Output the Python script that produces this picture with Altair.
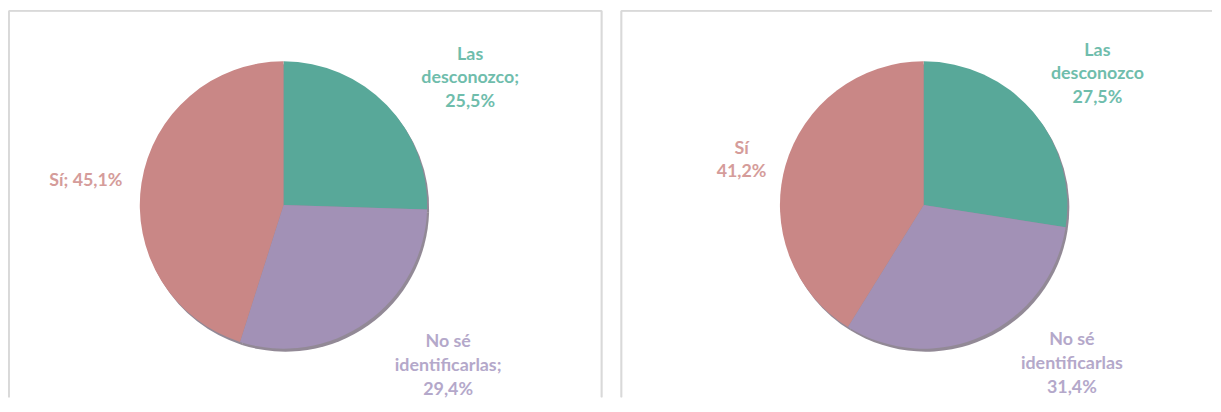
import altair as alt
import pandas as pd

categories = ["Las desconozco", "No sé identificarlas", "Sí"]
left_values = [25.5, 29.4, 45.1]
right_values = [27.5, 31.4, 41.2]
left_labels = [["Las", "desconozco;", "25,5%"], ["No sé", "identificarlas;", "29,4%"], ["Sí; 45,1%"]]
right_labels = [["Las", "desconozco", "27,5%"], ["No sé", "identificarlas", "31,4%"], ["Sí", "41,2%"]]

slice_colors = ["#58A899", "#A291B6", "#C98786"]
label_colors = ["#6FBDAC", "#B4A8CA", "#D59C9A"]

FONT = "Lato"
R = 145
LR = 215
LH = 24
BORDER = "#D9D9D9"


def panel(values, labels, cx, cy, offsets, w, h, right_border):
    total = float(sum(values))
    maxn = max(len(l) for l in labels)
    data = {
        "cat": categories,
        "value": values,
        "order": list(range(len(categories))),
    }
    for k in range(maxn):
        data[f"line{k}"] = [l[k] if k < len(l) else "" for l in labels]
    df = pd.DataFrame(data)
    tscale = alt.Scale(domain=[0, total])
    base = alt.Chart(df).encode(
        theta=alt.Theta("value:Q", stack=True, scale=tscale),
        order=alt.Order("order:Q"),
        x=alt.value(cx),
        y=alt.value(cy),
    )
    shadow = alt.Chart(df).mark_arc(outerRadius=R, color="#4a3a50", opacity=0.6).encode(
        theta=alt.Theta("value:Q", stack=True, scale=tscale),
        order=alt.Order("order:Q"),
        x=alt.value(cx + 2),
        y=alt.value(cy + 3),
    )
    arcs = base.mark_arc(outerRadius=R).encode(
        color=alt.Color("cat:N", scale=alt.Scale(domain=categories, range=slice_colors), legend=None)
    )
    frame = alt.Chart(df)
    borders = [
        frame.mark_rule(color=BORDER, strokeWidth=1.5).encode(x=alt.value(0), x2=alt.value(w), y=alt.value(0)),
        frame.mark_rule(color=BORDER, strokeWidth=1.5).encode(x=alt.value(0), y=alt.value(0), y2=alt.value(h)),
    ]
    if right_border:
        borders.append(
            frame.mark_rule(color=BORDER, strokeWidth=1.5).encode(x=alt.value(w), y=alt.value(0), y2=alt.value(h))
        )
    layers = borders + [shadow, arcs]
    mids = alt.Chart(df).transform_window(
        cum="sum(value)", sort=[alt.SortField("order", order="ascending")], frame=[None, 0]
    ).transform_calculate(mid="datum.cum - datum.value / 2")
    for i, c in enumerate(categories):
        dx, dy = offsets[i]
        n = len(labels[i])
        for k in range(n):
            t = mids.transform_filter(f"datum.cat == '{c}'").mark_text(
                radius=LR, dx=dx, dy=dy + (k - (n - 1) / 2) * LH, font=FONT, fontSize=18,
                fontWeight="bold", color=label_colors[i],
                align="center", baseline="middle",
            ).encode(
                theta=alt.Theta("mid:Q", stack=None, scale=tscale),
                x=alt.value(cx),
                y=alt.value(cy),
                text=f"line{k}:N",
            )
            layers.append(t)
    return alt.layer(*layers).properties(width=w, height=h)


left = panel(left_values, left_labels, 277, 196, [(34, 22), (42, -13), (13, 9)], 598, 390, True)
right = panel(right_values, right_labels, 305, 196, [(12, 8), (60, -35), (23, 14)], 596, 390, False)

chart = alt.hconcat(left, right, spacing=18).properties(padding=0).configure_view(stroke=None)

chart.save("out.html", embed_options={"renderer": "svg", "actions": False})
